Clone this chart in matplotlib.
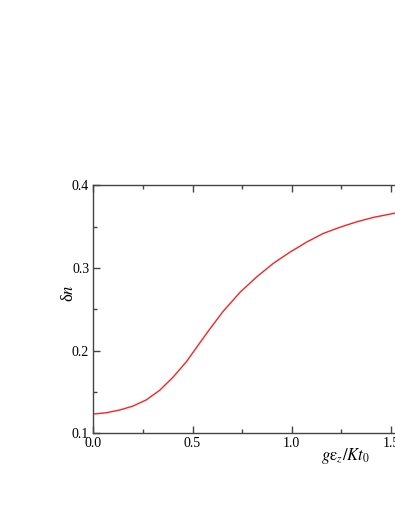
import numpy as np
import matplotlib.pyplot as plt
from matplotlib.ticker import MultipleLocator

# curve values
x_vals = [0.0, 0.066, 0.133, 0.200, 0.267, 0.335, 0.402, 0.469, 0.513,
          0.536, 0.588, 0.655, 0.739, 0.824, 0.907, 0.991, 1.042, 1.076,
          1.159, 1.243, 1.328, 1.411, 1.512, 1.600]
dn_vals = [0.1233, 0.1249, 0.1282, 0.1330, 0.1405, 0.1522, 0.1680, 0.1866,
           0.2015, 0.2092, 0.2265, 0.2478, 0.2705, 0.2894, 0.3056, 0.3192,
           0.3265, 0.3315, 0.3418, 0.3493, 0.3559, 0.3612, 0.3660, 0.3695]

plt.rcParams['font.family'] = ['Liberation Serif', 'DejaVu Serif']
plt.rcParams['mathtext.fontset'] = 'stix'

fig = plt.figure(figsize=(3.95, 5.11), dpi=100)
# axes runs past the right edge of the figure, as in the reference
ax = fig.add_axes([0.2363, 0.152, 0.8037, 0.4853])

ax.plot(x_vals, dn_vals, color='#ff2020', lw=1.0)

ax.set_xlim(0, 1.6)
ax.set_ylim(0.1, 0.4)
ax.xaxis.set_major_locator(MultipleLocator(0.5))
ax.xaxis.set_minor_locator(MultipleLocator(0.25))
ax.yaxis.set_major_locator(MultipleLocator(0.1))
ax.yaxis.set_minor_locator(MultipleLocator(0.05))
ax.xaxis.set_major_formatter(lambda v, p: f"{v:.1f}")
ax.yaxis.set_major_formatter(lambda v, p: f"{v:.1f}")

ax.tick_params(which='both', direction='in', top=True, right=True,
               color='#444444', width=1.0, labelsize=10, pad=3)
ax.tick_params(which='major', length=5)
ax.tick_params(which='minor', length=3)
for s in ax.spines.values():
    s.set_color('#444444')
    s.set_linewidth(1.0)

ax.set_ylabel(r'δ$n$', fontsize=12)
ax.yaxis.set_label_coords(-0.05, 0.566)
ax.set_xlabel(r'$g\mathrm{ε}_z/Kt_0$', fontsize=12)
ax.xaxis.set_label_coords(0.795, -0.05)

fig.savefig('out.png', dpi=100)
